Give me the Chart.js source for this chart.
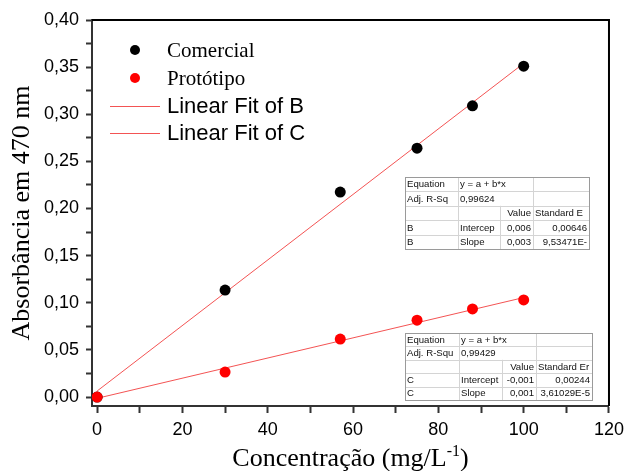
<!DOCTYPE html>
<html>
<head>
<meta charset="utf-8">
<script src="https://cdn.jsdelivr.net/npm/chart.js@4.4.1/dist/chart.umd.min.js"></script>
<style>
  html, body { margin: 0; padding: 0; background: #fff; }
  #wrap { width: 630px; height: 471px; position: relative; }
</style>
</head>
<body>
<div id="wrap"><canvas id="chart" width="630" height="471"></canvas></div>
<script>
// concentrations (mg/L)
const concentracao = [0, 30, 57, 75, 88, 100];
// absorbance
const comercial = [0.000, 0.1135, 0.2175, 0.264, 0.309, 0.351];
const prototipo = [0.000, 0.0265, 0.0615, 0.0815, 0.0935, 0.103];

const xTicks = [0, 10, 20, 30, 40, 50, 60, 70, 80, 90, 100, 110, 120];
const yTicks = [0, 0.025, 0.05, 0.075, 0.1, 0.125, 0.15, 0.175, 0.2, 0.225, 0.25, 0.275, 0.3, 0.325, 0.35, 0.375, 0.4];

// fit tables as printed in the picture
const tableB = [
    ['Equation', 'y = a + b*x', '', ''],
    ['Adj. R-Sq', '0,99624', '', ''],
    ['', '', 'Value', 'Standard E'],
    ['B', 'Intercep', '0,006', '0,00646'],
    ['B', 'Slope', '0,003', '9,53471E-']
];
const tableC = [
    ['Equation', 'y = a + b*x', '', ''],
    ['Adj. R-Squ', '0,99429', '', ''],
    ['', '', 'Value', 'Standard Er'],
    ['C', 'Intercept', '-0,001', '0,00244'],
    ['C', 'Slope', '0,001', '3,61029E-5']
];

function linearFit(xs, ys) {
    const n = xs.length;
    const mx = xs.reduce((a, b) => a + b, 0) / n;
    const my = ys.reduce((a, b) => a + b, 0) / n;
    let sxy = 0, sxx = 0;
    for (let i = 0; i < n; i++) {
        sxy += (xs[i] - mx) * (ys[i] - my);
        sxx += (xs[i] - mx) * (xs[i] - mx);
    }
    const b = sxy / sxx;
    const a = my - b * mx;
    const x0 = xs[0], x1 = xs[n - 1];
    return [{ x: x0, y: a + b * x0 }, { x: x1, y: a + b * x1 }];
}

const toPoints = (ys) => concentracao.map((x, i) => ({ x: x, y: ys[i] }));

function drawTable(ctx, rows, cols, top, rowH) {
    ctx.save();
    ctx.font = '9.6px "Liberation Sans", Arial, sans-serif';
    ctx.textBaseline = 'middle';
    const left = cols[0], right = cols[cols.length - 1];
    const bottom = top + rowH * rows.length;
    ctx.fillStyle = '#fff';
    ctx.fillRect(left, top, right - left, bottom - top);
    ctx.strokeStyle = '#d4d4d4';
    ctx.lineWidth = 1;
    for (let r = 1; r < rows.length; r++) {
        const y = Math.round(top + r * rowH) + 0.5;
        ctx.beginPath(); ctx.moveTo(left, y); ctx.lineTo(right, y); ctx.stroke();
    }
    for (let c = 1; c < cols.length - 1; c++) {
        const x = Math.round(cols[c]) + 0.5;
        const yStart = c === 2 ? top + 2 * rowH : top;
        ctx.beginPath(); ctx.moveTo(x, yStart); ctx.lineTo(x, bottom); ctx.stroke();
    }
    ctx.strokeStyle = '#9a9a9a';
    ctx.strokeRect(left + 0.5, top + 0.5, right - left, bottom - top);
    ctx.fillStyle = '#111';
    rows.forEach((row, r) => {
        const y = top + (r + 0.5) * rowH + 0.5;
        row.forEach((txt, c) => {
            if (!txt) return;
            const rightAlign = (c === 2) || (c === 3 && r > 2);
            if (rightAlign) {
                ctx.textAlign = 'right';
                ctx.fillText(txt, cols[c + 1] - 2, y);
            } else {
                ctx.textAlign = 'left';
                ctx.fillText(txt, cols[c] + 2, y);
            }
        });
    });
    ctx.restore();
}

const extras = {
    id: 'extras',
    afterDraw(chart) {
        const ctx = chart.ctx;
        const area = chart.chartArea;
        ctx.save();
        // top and right frame
        ctx.strokeStyle = '#000';
        ctx.lineWidth = 2;
        ctx.beginPath();
        ctx.moveTo(area.left, area.top);
        ctx.lineTo(area.right, area.top);
        ctx.lineTo(area.right, area.bottom);
        ctx.stroke();

        // legend
        const ds = chart.data.datasets;
        const lx = 135, tx = 167;
        const items = [
            { y: 50, ds: ds[0], serif: true },
            { y: 78, ds: ds[1], serif: true },
            { y: 106, ds: ds[2], serif: false },
            { y: 133, ds: ds[3], serif: false }
        ];
        ctx.textBaseline = 'middle';
        ctx.textAlign = 'left';
        items.forEach(it => {
            if (it.serif) {
                ctx.fillStyle = it.ds.backgroundColor;
                ctx.beginPath();
                ctx.arc(lx, it.y, 5, 0, Math.PI * 2);
                ctx.fill();
                ctx.font = '21px "Liberation Serif", "Times New Roman", serif';
            } else {
                ctx.strokeStyle = it.ds.borderColor;
                ctx.lineWidth = 1;
                ctx.beginPath();
                ctx.moveTo(110, it.y + 0.5);
                ctx.lineTo(160, it.y + 0.5);
                ctx.stroke();
                ctx.font = '22px "Liberation Sans", Arial, sans-serif';
            }
            ctx.fillStyle = '#000';
            ctx.fillText(it.ds.label, tx, it.y + 1);
        });

        // x axis title with superscript
        const base = 466;
        const main = 'Concentração (mg/L';
        const sup = '-1';
        const tail = ')';
        ctx.textBaseline = 'alphabetic';
        ctx.font = '26px "Liberation Serif", "Times New Roman", serif';
        const wMain = ctx.measureText(main).width;
        const wTail = ctx.measureText(tail).width;
        ctx.font = '16px "Liberation Serif", "Times New Roman", serif';
        const wSup = ctx.measureText(sup).width;
        let x = (area.left + area.right) / 2 - (wMain + wSup + wTail) / 2;
        ctx.fillStyle = '#000';
        ctx.font = '26px "Liberation Serif", "Times New Roman", serif';
        ctx.fillText(main, x, base);
        x += wMain;
        ctx.font = '16px "Liberation Serif", "Times New Roman", serif';
        ctx.fillText(sup, x, base - 10);
        x += wSup;
        ctx.font = '26px "Liberation Serif", "Times New Roman", serif';
        ctx.fillText(tail, x, base);
        ctx.restore();

        drawTable(ctx, tableB, [405, 458, 500, 533, 589], 177, 14.4);
        drawTable(ctx, tableC, [405, 459, 502, 536, 592], 333, 13.4);
    }
};

const ctx = document.getElementById('chart').getContext('2d');
new Chart(ctx, {
    type: 'scatter',
    data: {
        datasets: [
            {
                label: 'Comercial',
                data: toPoints(comercial),
                backgroundColor: '#000',
                borderColor: '#000',
                pointRadius: 5.5,
                pointBorderWidth: 0,
                order: 1
            },
            {
                label: 'Protótipo',
                data: toPoints(prototipo),
                backgroundColor: '#ff0000',
                borderColor: '#ff0000',
                pointRadius: 5.5,
                pointBorderWidth: 0,
                order: 0
            },
            {
                label: 'Linear Fit of B',
                data: linearFit(concentracao, comercial),
                showLine: true,
                borderColor: 'rgba(240, 40, 40, 0.8)',
                borderWidth: 1,
                pointRadius: 0,
                order: 2
            },
            {
                label: 'Linear Fit of C',
                data: linearFit(concentracao, prototipo),
                showLine: true,
                borderColor: 'rgba(240, 40, 40, 0.8)',
                borderWidth: 1,
                pointRadius: 0,
                order: 3
            }
        ]
    },
    options: {
        responsive: false,
        animation: false,
        events: [],
        layout: { padding: { top: 20, right: 21, left: 0, bottom: 0 } },
        plugins: {
            legend: { display: false },
            tooltip: { enabled: false }
        },
        scales: {
            x: {
                type: 'linear',
                min: -1.2,
                max: 120,
                afterBuildTicks: (scale) => { scale.ticks = xTicks.map(v => ({ value: v })); },
                afterFit: (scale) => { scale.height = 65; },
                ticks: {
                    color: '#000',
                    font: { family: '"Liberation Sans", Arial, sans-serif', size: 18 },
                    padding: 6,
                    maxRotation: 0,
                    autoSkip: false,
                    callback: (v) => (v % 20 === 0 ? String(v) : '')
                },
                grid: { drawOnChartArea: false, drawTicks: true, tickLength: 7, tickWidth: 2, tickColor: '#333' },
                border: { display: true, color: '#333', width: 2 }
            },
            y: {
                type: 'linear',
                min: -0.0095,
                max: 0.4,
                afterBuildTicks: (scale) => { scale.ticks = yTicks.map(v => ({ value: v })); },
                afterFit: (scale) => { scale.width = 92; },
                ticks: {
                    color: '#000',
                    font: { family: '"Liberation Sans", Arial, sans-serif', size: 18 },
                    padding: 7,
                    autoSkip: false,
                    callback: (v) => {
                        const k = Math.round(v * 1000);
                        return k % 50 === 0 ? (k / 1000).toFixed(2).replace('.', ',') : '';
                    }
                },
                grid: { drawOnChartArea: false, drawTicks: true, tickLength: 6, tickWidth: 2, tickColor: '#333' },
                border: { display: true, color: '#333', width: 2 },
                title: {
                    display: true,
                    text: 'Absorbância em 470 nm',
                    color: '#000',
                    font: { family: '"Liberation Serif", "Times New Roman", serif', size: 26, weight: 'normal' },
                    padding: { top: 7, bottom: 0 }
                }
            }
        }
    },
    plugins: [extras]
});
</script>
</body>
</html>
